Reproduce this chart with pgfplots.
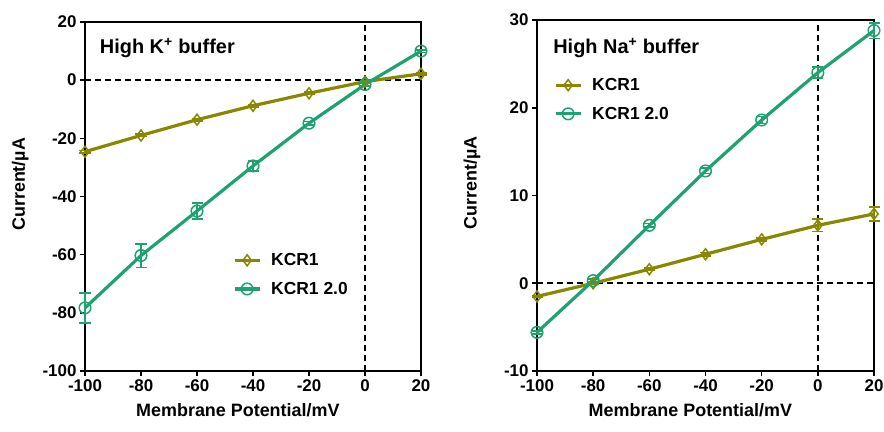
\documentclass[border=0pt]{standalone}
\usepackage{fontspec}
\setmainfont{Liberation Sans}
\usepackage{pgfplots}
\pgfplotsset{compat=1.18}

\definecolor{kcrone}{RGB}{136,136,0}
\definecolor{kcrtwo}{RGB}{30,162,112}

\pgfplotsset{
  ivcurve/.style={
    scale only axis,
    axis line style={line width=1.8bp},
    xmin=-100, xmax=20,
    xtick={-100,-80,...,20},
    tick align=outside,
    xtick pos=bottom, ytick pos=left,
    major tick length=5bp,
    tick style={line width=1.6bp, black},
    /pgf/number format/assume math mode=true,
    ticklabel style={font=\fontsize{17}{18}\selectfont\bfseries},
    label style={font=\fontsize{18}{20}\selectfont\bfseries},
    xlabel={Membrane Potential/mV},
    ylabel={Current/\textmu A},
    xlabel style={at={(axis description cs:0.455,-0.112)}, anchor=center},
    ylabel style={at={(axis description cs:-0.193,0.535)}, anchor=center},
    legend cell align=left,
    legend style={draw=none, fill=none, font=\fontsize{17.5}{20}\selectfont\bfseries,
      row sep=11bp, column sep=8bp, inner sep=0pt},
    legend image code/.code={
      \draw[mark repeat=2, mark phase=2] plot coordinates {(0bp,0bp) (12.5bp,0bp) (25bp,0bp)};
    },
    clip=false,
  },
  kcr1/.style={color=kcrone, line width=3.2bp, mark=diamond, mark size=5.5bp,
    mark options={line width=1.5bp, solid},
    error bars/y dir=both, error bars/y explicit,
    error bars/error bar style={line width=1.8bp},
    error bars/error mark options={rotate=90, mark size=5.5bp, line width=1.8bp}},
  kcr2/.style={color=kcrtwo, line width=3.2bp, mark=o, mark size=5.8bp,
    mark options={line width=1.5bp, solid},
    error bars/y dir=both, error bars/y explicit,
    error bars/error bar style={line width=1.8bp},
    error bars/error mark options={rotate=90, mark size=5.5bp, line width=1.8bp}},
  zeroline/.style={forget plot, black, line width=1.6bp, dash pattern=on 6bp off 4bp},
}

\begin{document}
\begin{tikzpicture}
\useasboundingbox (0bp,0bp) rectangle (884bp,432bp);

% High K+ buffer
\begin{axis}[ivcurve,
  at={(85bp,61bp)}, anchor=south west,
  width=336bp, height=349bp,
  ymin=-100, ymax=20, ytick={-100,-80,...,20},
  legend style={at={(0.44,0.343)}, anchor=north west},
]
\addplot[zeroline] coordinates {(-100,0) (20,0)};
\addplot[zeroline] coordinates {(0,-100) (0,20)};
\addplot[kcr1] coordinates {
  (-100,-24.6) +- (0,0.4)
  (-80,-19.0)  +- (0,0.4)
  (-60,-13.6)  +- (0,0.4)
  (-40,-8.8)   +- (0,0.3)
  (-20,-4.5)   +- (0,0.3)
  (0,-0.5)     +- (0,0.3)
  (20,2.2)     +- (0,0.3)
};
\addlegendentry{KCR1}
\addplot[kcr2] coordinates {
  (-100,-78.3) +- (0,5.2)
  (-80,-60.3)  +- (0,4.1)
  (-60,-45.0)  +- (0,2.8)
  (-40,-29.5)  +- (0,1.6)
  (-20,-14.8)  +- (0,0.6)
  (0,-1.5)     +- (0,0.5)
  (20,10.0)    +- (0,0.5)
};
\addlegendentry{KCR1 2.0}
\node[anchor=west, font=\fontsize{20}{22}\selectfont\bfseries]
  at (axis description cs:0.034,0.925) {High K\textsuperscript{+} buffer};
\end{axis}

% High Na+ buffer
\begin{axis}[ivcurve,
  at={(537bp,61bp)}, anchor=south west,
  width=337bp, height=351bp,
  ymin=-10, ymax=30, ytick={-10,0,...,30},
  legend style={at={(0.05,0.84)}, anchor=north west},
]
\addplot[zeroline] coordinates {(-100,0) (20,0)};
\addplot[zeroline] coordinates {(0,-10) (0,30)};
\addplot[kcr1] coordinates {
  (-100,-1.5) +- (0,0.1)
  (-80,0.0)   +- (0,0.1)
  (-60,1.6)   +- (0,0.1)
  (-40,3.3)   +- (0,0.2)
  (-20,5.0)   +- (0,0.2)
  (0,6.6)     +- (0,0.7)
  (20,7.9)    +- (0,0.8)
};
\addlegendentry{KCR1}
\addplot[kcr2] coordinates {
  (-100,-5.6) +- (0,0.2)
  (-80,0.3)   +- (0,0.2)
  (-60,6.6)   +- (0,0.2)
  (-40,12.8)  +- (0,0.3)
  (-20,18.6)  +- (0,0.4)
  (0,24.0)    +- (0,0.6)
  (20,28.8)   +- (0,0.9)
};
\addlegendentry{KCR1 2.0}
\node[anchor=west, font=\fontsize{20}{22}\selectfont\bfseries]
  at (axis description cs:0.038,0.92) {High Na\textsuperscript{+} buffer};
\end{axis}
\end{tikzpicture}
\end{document}
